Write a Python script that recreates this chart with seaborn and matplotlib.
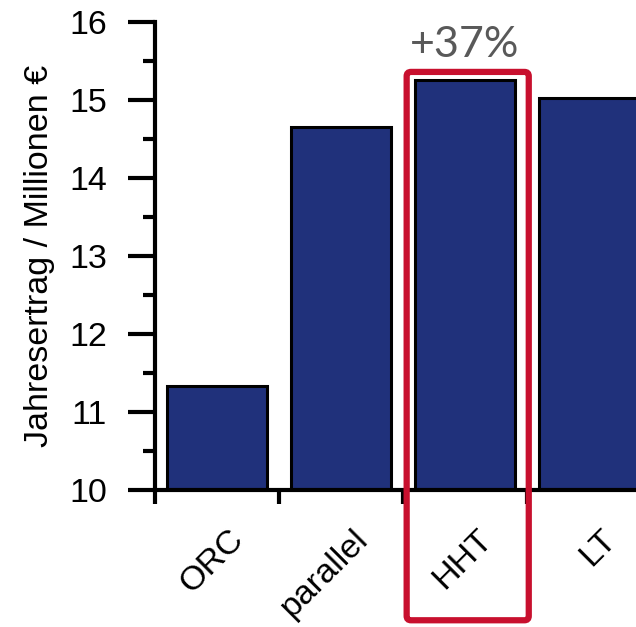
import matplotlib
matplotlib.use("Agg")
import matplotlib.pyplot as plt
import matplotlib.transforms as mtransforms
from matplotlib.patches import FancyBboxPatch
from matplotlib.ticker import MultipleLocator, FixedLocator
import seaborn as sns
import pandas as pd

categories = ["ORC", "parallel", "HHT", "LT"]
values = [11.33, 14.65, 15.26, 15.02]
annotation = "+37%"
ylabel = "Jahresertrag / Millionen €"

sns.set_style("white")
plt.rcParams["font.family"] = ["Liberation Sans", "DejaVu Sans"]
plt.rcParams["text.color"] = "black"
plt.rcParams["axes.labelcolor"] = "black"
plt.rcParams["xtick.color"] = "black"
plt.rcParams["ytick.color"] = "black"

fig = plt.figure(figsize=(6.36, 6.27), dpi=100)
ax = fig.add_axes([155/636, 1 - 490/627, 1 - 155/636, (490 - 22)/627])

df = pd.DataFrame({"cat": categories, "val": values})
sns.barplot(data=df, x="cat", y="val", color="#20317B", saturation=1,
            edgecolor="black", linewidth=2.2, width=0.8, ax=ax)

ax.set_ylim(10, 16)
ax.set_xlim(-0.5, 3.38)
for s in ["top", "right"]:
    ax.spines[s].set_visible(False)
for s in ["left", "bottom"]:
    ax.spines[s].set_linewidth(3)
    ax.spines[s].set_color("black")

ax.yaxis.set_major_locator(MultipleLocator(1))
ax.yaxis.set_minor_locator(MultipleLocator(0.5))
ax.tick_params(axis="y", which="major", length=19.5, width=3, labelsize=24.5, pad=15, left=True)
ax.tick_params(axis="y", which="minor", length=9, width=3, left=True)

ax.set_xticks(range(len(categories)))
ax.set_xticklabels(categories, rotation=45, ha="right", va="center", rotation_mode="anchor")
ax.xaxis.set_minor_locator(FixedLocator([-0.5, 0.5, 1.5, 2.5]))
ax.tick_params(axis="x", which="major", length=0, labelsize=24.5, pad=32)
ax.tick_params(axis="x", which="minor", length=10, width=3, bottom=True)
offset = mtransforms.ScaledTranslation(16/72, 0, fig.dpi_scale_trans)
for lab in ax.get_xticklabels():
    lab.set_transform(lab.get_transform() + offset)

ax.set_xlabel("")
ax.set_ylabel(ylabel, fontsize=24.5, labelpad=10)

# highlight box around HHT
box = FancyBboxPatch((1.53, 8.33), 0.985, 15.36 - 8.33,
                     boxstyle="round,pad=0,rounding_size=0.035",
                     fill=False, edgecolor="#C8102E", linewidth=4.5,
                     clip_on=False, zorder=5, mutation_aspect=124/78)
ax.add_patch(box)
ax.text(2.0, 15.70, annotation, ha="center", va="center", fontsize=31,
        color="#595959", family=["Lato", "DejaVu Sans"], clip_on=False)

fig.savefig("out.png", dpi=100)
